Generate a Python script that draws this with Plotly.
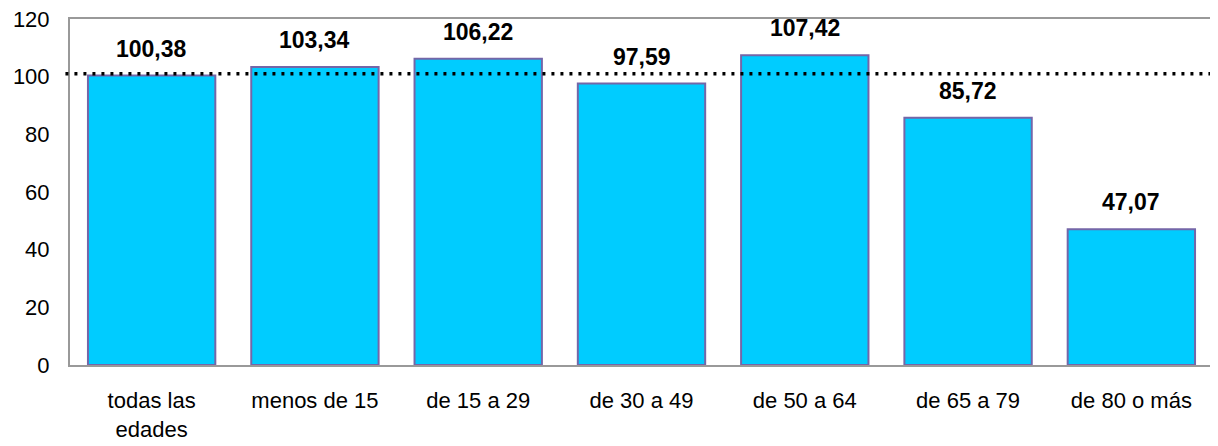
import plotly.graph_objects as go

categories = ["todas las<br>edades", "menos de 15", "de 15 a 29", "de 30 a 49",
              "de 50 a 64", "de 65 a 79", "de 80 o más"]
values = [100.38, 103.34, 106.22, 97.59, 107.42, 85.72, 47.07]
labels = ["100,38", "103,34", "106,22", "97,59", "107,42", "85,72", "47,07"]
reference_level = 101
y_ticks = [0, 20, 40, 60, 80, 100, 120]

FONT = "Liberation Sans, Arial, sans-serif"

fig = go.Figure()
fig.add_trace(go.Bar(
    x=categories, y=values,
    marker=dict(color="#00CCFF", line=dict(color="#7466A8", width=2)),
    hoverinfo="skip",
))

for c, v, t in zip(categories, values, labels):
    fig.add_annotation(x=c, y=v, text="<b>%s</b>" % t, showarrow=False,
                       yanchor="bottom", yshift=12,
                       font=dict(family=FONT, size=23, color="black"))

fig.add_shape(type="line", xref="paper", yref="y", x0=-0.004, x1=1,
              y0=reference_level, y1=reference_level,
              line=dict(color="black", width=3.5, dash="3px,6px"))

# page body has an 8px default margin, so the figure is sized to fit the window
fig.update_layout(
    width=1210, height=438,
    margin=dict(l=62, r=5, t=11, b=81, autoexpand=False),
    plot_bgcolor="white", paper_bgcolor="white",
    bargap=0.22, showlegend=False,
    font=dict(family=FONT, size=22, color="black"),
)
fig.update_xaxes(showline=True, linecolor="#999999", linewidth=2, mirror=True,
                 ticks="", ticklabelstandoff=15, automargin=False,
                 tickfont=dict(family=FONT, size=22, color="black"))
fig.update_yaxes(range=[0, 120], tickvals=y_ticks, showgrid=False, zeroline=False,
                 showline=True, linecolor="#999999", linewidth=2, mirror=True,
                 ticks="", ticklabelstandoff=14, automargin=False,
                 ticklabeloverflow="allow",
                 tickfont=dict(family=FONT, size=22, color="black"))

fig.write_html("out.html")
